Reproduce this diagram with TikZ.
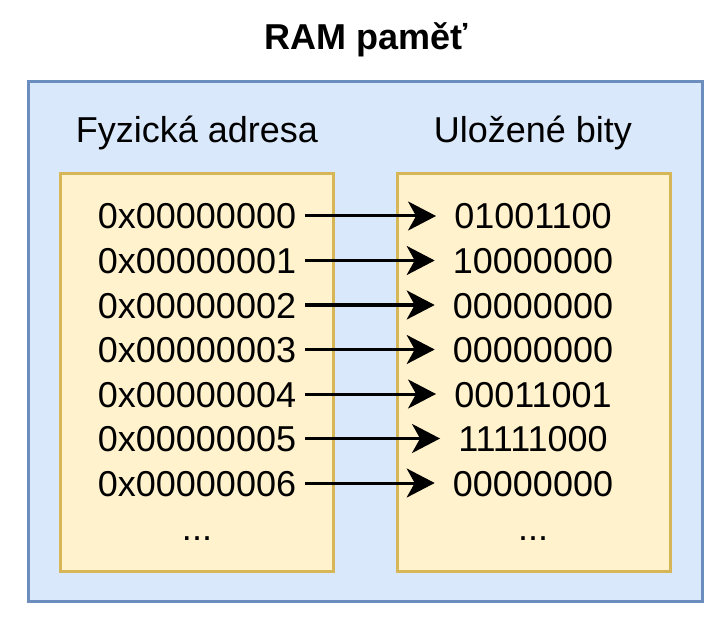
\documentclass[tikz,border=0pt]{standalone}
\usepackage{fontspec}
\setmainfont{Liberation Sans}
\usepackage{tikz}
\usetikzlibrary{arrows.meta}

\definecolor{ramfill}{HTML}{DAE8FC}
\definecolor{ramline}{HTML}{6C8EBF}
\definecolor{colfill}{HTML}{FFF2CC}
\definecolor{colline}{HTML}{D6B656}

\tikzset{
  ram/.style={draw=ramline,fill=ramfill,line width=3pt},
  column/.style={draw=colline,fill=colfill,line width=3pt},
  cell/.style={font=\fontsize{36}{40}\selectfont,anchor=base,text height=26pt,text depth=0pt,inner ysep=0pt},
  addr/.style={cell,inner xsep=9pt},
  bits/.style={cell,inner xsep=18pt},
  link/.style={-{Stealth[length=28pt 0 0,width=29pt 0 0,inset=8pt 0 0]},line width=3pt}
}

\begin{document}
\begin{tikzpicture}[x=1pt,y=-1pt]
      \useasboundingbox (0,0) rectangle (722,617);
      \node[font=\fontsize{36}{40}\selectfont\bfseries,anchor=base] (title) at (366,50) {RAM paměť};
      \draw[ram] (28,82) rectangle (702,601);
      \draw[column] (60,174) rectangle (333,571);
      \draw[column] (397,174) rectangle (670,571);
      \node[cell] (addrhead) at (197,143) {Fyzická adresa};
      \node[cell] (bitshead) at (533,143) {Uložené bity};
      \foreach \row/\val in {0/01001100,1/10000000,2/00000000,3/00000000,4/00011001,5/11111000,6/00000000} {
        \pgfmathsetmacro\ypos{229+44.5*\row}
        \node[addr] (a\row) at (197,\ypos) {0x0000000\row};
        \node[bits] (b\row) at (533,\ypos) {\val};
        \draw[link] (a\row.east) -- (b\row.west);
      }
      \node[cell] (adots) at (197,540) {...};
      \node[cell] (bdots) at (533,540) {...};
   \end{tikzpicture}
\end{document}
